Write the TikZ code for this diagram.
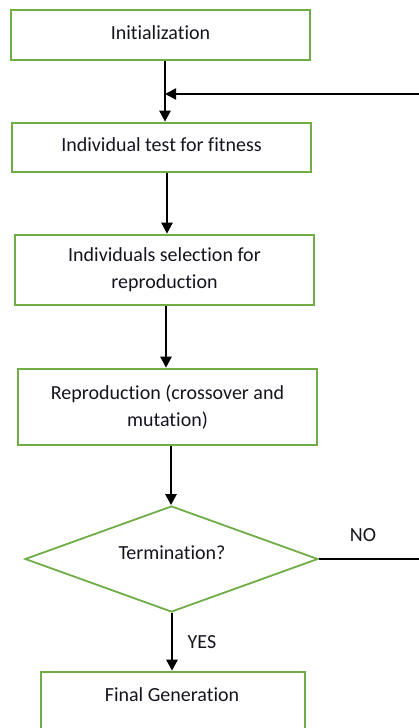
\documentclass[tikz,border=0pt]{standalone}
\usepackage{fontspec}
\setmainfont{Carlito}[Ligatures=NoCommon]
\usetikzlibrary{arrows.meta,shapes.geometric}
\definecolor{boxgreen}{RGB}{112,173,71}
\definecolor{txt}{RGB}{20,20,30}
\tikzset{
  stepbox/.style={draw=boxgreen, line width=2.6pt, rectangle, minimum width=299pt, align=center, text=txt, font=\fontsize{20}{27}\selectfont, inner sep=0pt},
  decision/.style={draw=boxgreen, line width=1.8pt, diamond, aspect=2.76, minimum width=293pt, minimum height=106pt, inner sep=0pt},
  flow/.style={line width=2.4pt, -{Triangle[width=11pt,length=11pt]}},
  lbl/.style={text=txt, font=\fontsize{20}{24}\selectfont, inner sep=0pt}
}
\begin{document}
\begin{tikzpicture}[x=1pt,y=-1pt]
\useasboundingbox (0,0) rectangle (419,728);
\node[stepbox, minimum height=50pt] (b1) at (160.5,35) {\raisebox{4pt}{Initialization}};
\node[stepbox, minimum height=49pt] (b2) at (161.5,147.5) {\raisebox{6pt}{Individual test for fitness}};
\node[stepbox, minimum height=70pt] (b3) at (164.5,270) {Individuals selection for\\reproduction};
\node[stepbox, minimum height=76pt] (b4) at (167.5,407) {\raisebox{2pt}{Reproduction (crossover and}\\\raisebox{2pt}{mutation)}};
\node[decision] (d) at (171.5,559) {};
\node[lbl] (dt) at (172,553) {Termination?};
\node[stepbox, minimum width=264pt, minimum height=76pt] (b5) at (173,710) {};
\node[lbl] (b5t) at (172,695) {Final Generation};
\node[lbl] (no) at (363,535) {NO};
\node[lbl] (yes) at (202,642) {YES};
\coordinate (a1) at (165,0);
\coordinate (a2) at (167,0);
\coordinate (a3) at (166,0);
\coordinate (a4) at (171,0);
\coordinate (a5) at (172,0);
\coordinate (j) at (165,94);
\coordinate (r1) at (424,559);
\coordinate (r2) at (424,94);
\draw[flow] (b1.south -| a1) -- (b2.north -| a1);
\draw[flow] (b2.south -| a2) -- (b3.north -| a2);
\draw[flow] (b3.south -| a3) -- (b4.north -| a3);
\draw[flow] (b4.south -| a4) -- (d.north -| a4);
\draw[flow] (d.south -| a5) -- (b5.north -| a5);
\draw[flow, line width=1.8pt] (d.east) -- (r1) -- (r2) -- (j);
\end{tikzpicture}
\end{document}
